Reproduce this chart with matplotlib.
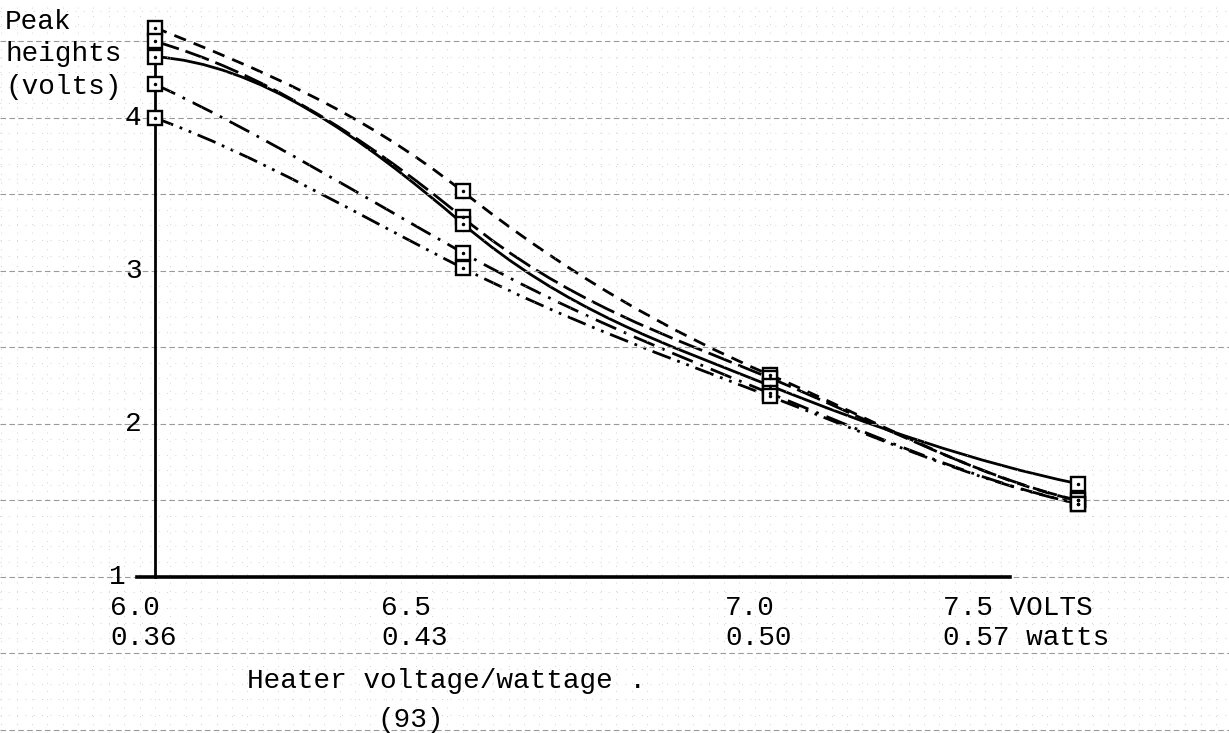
import numpy as np
import matplotlib
matplotlib.use('Agg')
import matplotlib.pyplot as plt
from matplotlib.path import Path
from matplotlib.patches import PathPatch

# heater voltage (x) and the five peak-height curves (volts)
heater_volts = [6.0, 6.5, 7.0, 7.5]
volt_labels = ['6.0', '6.5', '7.0', '7.5 VOLTS']
watt_labels = ['0.36', '0.43', '0.50', '0.57 watts']
y_ticks = [1, 2, 3, 4]

peak_short_dash = [4.59, 3.52, 2.32, 1.50]
peak_long_dash = [4.50, 3.35, 2.30, 1.50]
peak_solid = [4.40, 3.31, 2.25, 1.61]
peak_dash_dot = [4.22, 3.12, 2.20, 1.48]
peak_dash_dot_dot = [4.00, 3.02, 2.18, 1.48]

W, H = 1229, 733
FONT = 'Liberation Mono'
FS = 20


def smooth_path(xs, ys, k):
    # hand-drawn look: hermite curve through the points, k scales the tangents
    xs = np.asarray(xs, float)
    ys = np.asarray(ys, float)
    n = len(xs)
    m = np.empty(n)
    m[0] = (ys[1] - ys[0]) / (xs[1] - xs[0])
    m[-1] = (ys[-1] - ys[-2]) / (xs[-1] - xs[-2])
    for i in range(1, n - 1):
        m[i] = (ys[i + 1] - ys[i - 1]) / (xs[i + 1] - xs[i - 1])
    m = m * np.asarray(k)
    verts = [(xs[0], ys[0])]
    codes = [Path.MOVETO]
    for i in range(n - 1):
        h = (xs[i + 1] - xs[i]) / 3
        verts += [(xs[i] + h, ys[i] + h * m[i]),
                  (xs[i + 1] - h, ys[i + 1] - h * m[i + 1]),
                  (xs[i + 1], ys[i + 1])]
        codes += [Path.CURVE4] * 3
    return Path(verts, codes)


fig = plt.figure(figsize=(W / 100, H / 100), dpi=100)
ax = fig.add_axes([0, 0, 1, 1])
ax.set_xlim(5.748, 7.746)
ax.set_ylim(-0.02, 4.771)

# graph paper
ax.set_yticks(np.arange(0, 4.8, 0.5))
ax.set_yticks(np.arange(0, 4.8, 0.1), minor=True)
ax.set_xticks([])
ax.set_xticks(np.arange(5.75, 7.75, 0.025), minor=True)
ax.grid(True, which='major', axis='y', color='#9a9a9a', lw=0.8, ls=(0, (5, 3)))
ax.grid(True, which='minor', color='#c4c4c4', lw=0.6, ls=(0, (1, 9)))
ax.tick_params(which='both', length=0, labelbottom=False, labelleft=False)

for s in ['top', 'right']:
    ax.spines[s].set_visible(False)
ax.spines['left'].set_position(('data', 6.0))
ax.spines['left'].set_bounds(1, 4.52)
ax.spines['left'].set_linewidth(2)
ax.spines['bottom'].set_position(('data', 1))
ax.spines['bottom'].set_bounds(5.97, 7.39)
ax.spines['bottom'].set_linewidth(2.6)

series = [
    (peak_short_dash, (0, (4.5, 3)), [0.75, 1.4, 0.85, 0.55]),
    (peak_long_dash, (0, (9, 2.5)), [0.5, 1.5, 0.9, 0.6]),
    (peak_solid, '-', [0.12, 1.6, 0.95, 0.65]),
    (peak_dash_dot, (0, (8, 3, 1, 3)), [0.85, 1.12, 1.0, 0.62]),
    (peak_dash_dot_dot, (0, (7, 2.5, 1, 2.5, 1, 2.5)), [0.75, 1.12, 1.0, 0.62]),
]
for vals, ls, k in series:
    ax.add_patch(PathPatch(smooth_path(heater_volts, vals, k), fill=False,
                           edgecolor='black', lw=2.0, ls=ls, capstyle='butt'))
    ax.plot(heater_volts, vals, ls='none', marker='s', ms=10, mfc='white',
            mec='black', mew=1.7, zorder=3)
    ax.plot(heater_volts, vals, ls='none', marker='.', ms=3, color='black', zorder=4)


def ftext(px, py, s, **kw):
    fig.text(px / W, 1 - py / H, s, family=FONT, fontsize=FS, color='black', **kw)


ftext(5, 29, 'Peak', va='baseline')
ftext(5, 61, 'heights', va='baseline')
ftext(5, 94, '(volts)', va='baseline')

for v in y_ticks:
    ax.text(5.978 if v > 1 else 5.952, v, str(v), ha='right', va='center',
            family=FONT, fontsize=FS)

label_left_px = [110, 381, 725, 943]
for px, vl, wl in zip(label_left_px, volt_labels, watt_labels):
    ftext(px, 615, vl, va='baseline')
    ftext(px, 645, wl, va='baseline')

ftext(247, 688, 'Heater voltage/wattage .', va='baseline')
ftext(377, 727, '(93)', va='baseline')

fig.savefig('out.png', dpi=100)
